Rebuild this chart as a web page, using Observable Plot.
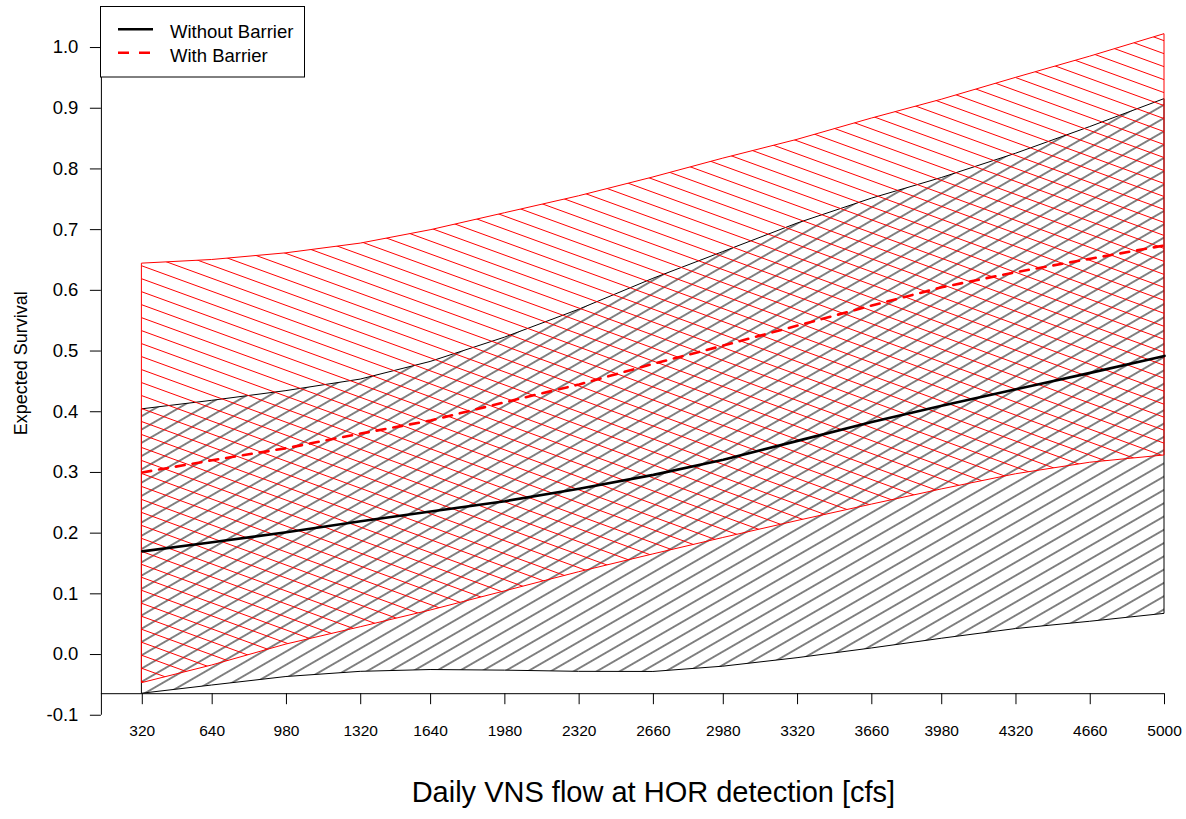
<!DOCTYPE html>
<html>
<head>
<meta charset="utf-8">
<script src="https://cdn.jsdelivr.net/npm/d3@7"></script>
<script src="https://cdn.jsdelivr.net/npm/@observablehq/plot@0.6"></script>
<style>
html, body { margin: 0; padding: 0; background: #fff; overflow: hidden; }
#wrap { position: relative; width: 1186px; height: 819px; }
#legend { position: absolute; left: 100px; top: 6px; font-family: "Liberation Sans", Arial, sans-serif; }
</style>
</head>
<body>
<div id="wrap">
  <div id="chart"></div>
  <svg id="legend" width="205" height="72">
    <rect x="0.5" y="0.5" width="204" height="70.5" fill="white" stroke="black" stroke-width="1"></rect>
    <line x1="18" x2="53" y1="23.3" y2="23.3" stroke="black" stroke-width="2.5"></line>
    <line x1="18" x2="53" y1="46.7" y2="46.7" stroke="red" stroke-width="2.5" stroke-dasharray="11,10"></line>
    <text id="lg1" x="70" y="32.3" font-size="18.5" fill="black"></text>
    <text id="lg2" x="70" y="55.7" font-size="18.5" fill="black"></text>
  </svg>
</div>
<script>
// ---- data ----
const flow = [320, 640, 980, 1320, 1640, 1980, 2320, 2660, 2980, 3320, 3660, 3980, 4320, 4660, 5000];

// Without Barrier
const noBarrierMid   = [0.170, 0.185, 0.2015, 0.2196, 0.2356, 0.2526, 0.273, 0.296, 0.321, 0.352, 0.383, 0.410, 0.437, 0.464, 0.492];
const noBarrierUpper = [0.404, 0.418, 0.434, 0.453, 0.482, 0.522, 0.568, 0.619, 0.663, 0.710, 0.751, 0.785, 0.825, 0.869, 0.915];
const noBarrierLower = [-0.0645, -0.051, -0.037, -0.0285, -0.0255, -0.0265, -0.0285, -0.0287, -0.020, -0.006, 0.010, 0.026, 0.042, 0.054, 0.067];

// With Barrier
const barrierMid   = [0.300, 0.320, 0.340, 0.364, 0.3855, 0.4157, 0.445, 0.479, 0.509, 0.542, 0.575, 0.605, 0.630, 0.652, 0.674];
const barrierUpper = [0.644, 0.650, 0.661, 0.677, 0.699, 0.727, 0.755, 0.786, 0.817, 0.848, 0.883, 0.914, 0.950, 0.985, 1.022];
const barrierLower = [-0.047, -0.018, 0.0165, 0.045, 0.0725, 0.104, 0.1356, 0.165, 0.192, 0.220, 0.247, 0.272, 0.297, 0.316, 0.328];

const xTicks = [320, 640, 980, 1320, 1640, 1980, 2320, 2660, 2980, 3320, 3660, 3980, 4320, 4660, 5000];
const yTicks = [-0.1, 0.0, 0.1, 0.2, 0.3, 0.4, 0.5, 0.6, 0.7, 0.8, 0.9, 1.0];

const seriesNames = ["Without Barrier", "With Barrier"];
const xTitle = "Daily VNS flow at HOR detection [cfs]";
const yTitle = "Expected Survival";

// ---- table ----
const rows = flow.map((f, i) => ({
  flow: f,
  noMid: noBarrierMid[i], noHi: noBarrierUpper[i], noLo: noBarrierLower[i],
  wMid: barrierMid[i], wHi: barrierUpper[i], wLo: barrierLower[i]
}));

// R-style plot region (4% padding on x; the right part is cut off in the picture)
const xSpan = d3.max(flow) - d3.min(flow);
const xUsr = [d3.min(flow) - 0.04 * xSpan, d3.max(flow) + 0.04 * xSpan];
const yUsr = [-0.108, 1.0676];
const xAxisAt = d3.min(noBarrierLower);

const W = 1186, H = 819;
const font = "'Liberation Sans', Arial, sans-serif";

const chart = Plot.plot({
  width: W,
  height: H,
  marginLeft: 100.9,
  marginRight: W - 1204.9,
  marginTop: 6,
  marginBottom: 99.4,
  style: { fontFamily: font, background: "white", color: "black" },
  x: { type: "linear", domain: xUsr },
  y: { type: "linear", domain: yUsr },
  marks: [
    Plot.areaY(rows, { x: "flow", y1: "noLo", y2: "noHi", fill: "url(#hatchBlack)", stroke: "black", strokeWidth: 1 }),
    Plot.areaY(rows, { x: "flow", y1: "wLo", y2: "wHi", fill: "url(#hatchRed)", stroke: "red", strokeWidth: 1 }),
    Plot.line(rows, { x: "flow", y: "noMid", stroke: "black", strokeWidth: 2.6 }),
    Plot.line(rows, { x: "flow", y: "wMid", stroke: "red", strokeWidth: 2.6, strokeDasharray: "9,8" }),
    // x axis drawn at the lowest band value
    Plot.ruleY([xAxisAt], { x1: xUsr[0], x2: d3.max(xTicks), stroke: "black", strokeWidth: 1 }),
    Plot.ruleX(xTicks, { x: d => d, y1: () => xAxisAt, y2: () => xAxisAt, insetBottom: -11, stroke: "black", strokeWidth: 1 }),
    Plot.axisX(xTicks, { anchor: "bottom", tickSize: 0, tickPadding: 5, fontSize: 15.5, label: null, tickFormat: d => String(d) }),
    // y axis
    Plot.ruleX([xUsr[0]], { y1: d3.min(yTicks), y2: d3.max(yTicks), stroke: "black", strokeWidth: 1 }),
    Plot.axisY(yTicks, { anchor: "left", tickSize: 11, tickPadding: 12, fontSize: 18.5, label: null, tickFormat: d => d.toFixed(1) }),
    // titles
    Plot.text([xTitle], { x: () => (xUsr[0] + xUsr[1]) / 2, frameAnchor: "bottom", dy: 82, fontSize: 29, text: d => d, fill: "black" }),
    Plot.text([yTitle], { frameAnchor: "left", textAnchor: "middle", dx: -80.4, rotate: -90, fontSize: 18, text: d => d, fill: "black" })
  ]
});

const ns = "http://www.w3.org/2000/svg";
const defs = document.createElementNS(ns, "defs");
defs.innerHTML =
  '<pattern id="hatchBlack" patternUnits="userSpaceOnUse" width="40" height="11.5" patternTransform="rotate(-30)">' +
  '<line x1="-5" x2="45" y1="5.75" y2="5.75" stroke="black" stroke-width="1.15"></line></pattern>' +
  '<pattern id="hatchRed" patternUnits="userSpaceOnUse" width="40" height="12.2" patternTransform="rotate(20)">' +
  '<line x1="-5" x2="45" y1="6.1" y2="6.1" stroke="red" stroke-width="1.1"></line></pattern>';
chart.insertBefore(defs, chart.firstChild);
document.getElementById("chart").appendChild(chart);

document.getElementById("lg1").textContent = seriesNames[0];
document.getElementById("lg2").textContent = seriesNames[1];
</script>
</body>
</html>
